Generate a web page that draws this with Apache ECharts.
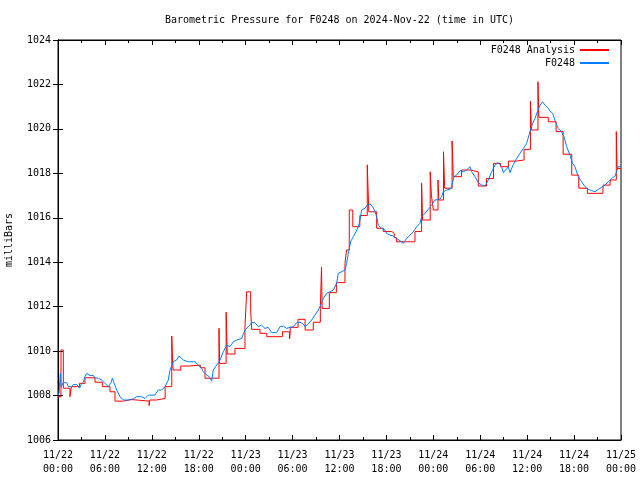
<!DOCTYPE html>
<html>
<head>
<meta charset="utf-8">
<script src="https://cdn.jsdelivr.net/npm/echarts@6/dist/echarts.min.js"></script>
<style>html,body{margin:0;padding:0;background:#fff;}#c{width:640px;height:480px;}</style>
</head>
<body>
<div id="c"></div>
<script>
// hours since 2024-11-22 00:00 UTC
const xTickLabels = ["11/22\n00:00","11/22\n06:00","11/22\n12:00","11/22\n18:00","11/23\n00:00","11/23\n06:00","11/23\n12:00","11/23\n18:00","11/24\n00:00","11/24\n06:00","11/24\n12:00","11/24\n18:00","11/25\n00:00"];
const yTicks = [1006,1008,1010,1012,1014,1016,1018,1020,1022,1024];

const analysisHours = [0,0.38,0.68,1.53,1.72,2.75,3.45,4.73,5.67,6.65,7.29,8.36,9.4,11.65,11.75,12.6,13.7,14.55,14.62,14.72,15.7,16.8,18.2,18.8,20.59,20.66,21.5,21.65,22.63,23.91,24.13,24.64,24.77,25.83,26.7,28.7,29.62,29.72,30.7,31.6,32.65,33.55,33.7,33.78,34.7,35.6,36.7,36.9,37.25,37.7,38.6,39.55,39.75,40.75,41.6,42.7,43.0,43.3,45.65,46.5,46.62,47.6,47.75,48.0,48.6,48.7,49.3,49.45,50.4,50.55,51.6,52.7,53.75,54.8,55.7,56.6,57.6,58.6,59.6,60.42,60.55,61.38,61.5,62.7,63.7,64.6,65.7,66.6,67.7,69.7,70.6,71.4,71.5,72];
const analysisValues = [1007.95,1010.05,1008.33,1007.95,1008.4,1008.55,1008.8,1008.6,1008.4,1008.17,1007.75,1007.82,1007.75,1007.55,1007.8,1007.87,1008.4,1010.68,1009.93,1009.15,1009.33,1009.37,1009.25,1008.78,1011.03,1009.45,1011.75,1009.87,1010.12,1011.1,1012.67,1011.85,1010.98,1010.8,1010.65,1010.87,1010.55,1011.07,1011.43,1010.95,1011.3,1011.92,1013.77,1011.92,1012.63,1013.08,1013.95,1014.55,1016.35,1015.6,1016.1,1018.38,1016.27,1015.53,1015.38,1015.3,1015.1,1014.92,1015.38,1017.55,1015.9,1018.07,1017.03,1016.35,1017.7,1016.8,1018.97,1017.33,1019.45,1017.85,1018.15,1018.07,1017.43,1017.77,1018.45,1018.3,1018.55,1018.6,1019.08,1021.25,1019.95,1022.12,1020.52,1020.32,1019.88,1018.86,1017.92,1017.33,1017.1,1017.47,1017.7,1019.88,1018.22,1018.22];

const obsHours = [0.0,0.13,0.3,0.4,0.68,1.11,1.32,1.75,1.96,2.39,2.75,2.94,3.24,3.45,3.67,4.09,4.52,4.73,5.16,5.58,6.01,6.44,6.8,6.95,7.2,7.5,7.93,8.35,8.99,9.63,10.06,10.7,11.13,11.55,12.4,12.83,13.26,13.68,14.11,14.32,14.75,14.96,15.17,15.47,16.03,16.67,17.52,17.95,18.37,18.59,19.01,19.35,19.65,19.86,20.29,20.72,21.14,21.57,22.0,22.42,22.85,23.49,23.91,24.34,24.77,25.19,25.62,26.04,26.47,26.89,27.32,27.96,28.39,28.82,29.24,29.67,30.1,30.52,30.95,31.37,31.59,32.01,32.44,32.86,33.29,33.59,33.93,34.36,34.78,35.21,35.63,35.85,36.27,36.48,36.7,36.91,37.13,37.42,37.77,38.11,38.41,38.62,38.83,39.26,39.56,39.9,40.24,40.54,40.75,40.96,41.39,41.82,42.03,42.46,42.88,43.31,43.73,44.16,44.37,44.59,45.01,45.44,45.87,46.29,46.51,46.93,47.36,47.78,48.21,48.42,48.85,49.06,49.28,49.7,50.13,50.34,50.64,50.98,51.41,51.84,52.26,52.69,52.9,53.32,53.75,54.18,54.6,55.03,55.46,55.88,56.31,56.74,56.95,57.37,57.59,57.8,58.23,58.66,59.08,59.51,59.93,60.36,60.7,61.0,61.3,61.64,61.98,62.28,62.71,62.92,63.26,63.68,63.98,64.41,64.71,65.05,65.47,65.81,66.11,66.54,66.97,67.39,67.82,68.25,68.67,69.1,69.52,69.95,70.38,70.8,71.23,71.44,71.65,71.95];
const obsValues = [1008.0,1008.1,1009.0,1008.4,1008.58,1008.58,1008.4,1008.4,1008.5,1008.5,1008.33,1008.5,1008.6,1008.85,1009.0,1008.9,1008.9,1008.8,1008.78,1008.7,1008.55,1008.4,1008.6,1008.78,1008.7,1008.25,1007.95,1007.8,1007.8,1007.85,1007.95,1007.95,1007.87,1008.02,1008.02,1008.25,1008.25,1008.4,1008.7,1009.15,1009.52,1009.6,1009.6,1009.78,1009.6,1009.52,1009.52,1009.37,1009.22,1009.07,1008.92,1008.85,1008.65,1009.15,1009.37,1009.6,1009.97,1010.27,1010.2,1010.42,1010.5,1010.57,1010.95,1011.1,1011.28,1011.28,1011.1,1011.17,1011.02,1011.07,1010.83,1010.83,1011.1,1011.13,1011.02,1011.07,1011.1,1011.28,1011.3,1011.22,1011.1,1011.22,1011.4,1011.62,1011.85,1012.07,1012.37,1012.6,1012.67,1012.75,1013.05,1013.5,1013.57,1013.5,1013.65,1013.95,1014.4,1014.92,1015.15,1015.37,1015.6,1015.9,1016.35,1016.43,1016.57,1016.62,1016.5,1016.27,1016.05,1015.67,1015.52,1015.45,1015.3,1015.22,1015.18,1015.07,1014.97,1014.85,1014.88,1015.07,1015.22,1015.37,1015.6,1015.75,1016.05,1016.2,1016.38,1016.57,1016.8,1016.8,1016.83,1016.95,1017.17,1017.25,1017.28,1017.4,1017.85,1017.92,1018.12,1018.07,1018.15,1018.3,1018.07,1017.85,1017.58,1017.47,1017.43,1017.7,1018.07,1018.37,1018.48,1018.3,1018.03,1018.2,1018.3,1018.03,1018.4,1018.67,1018.9,1019.12,1019.35,1019.87,1020.25,1020.47,1020.77,1021.07,1021.22,1021.07,1020.92,1020.8,1020.7,1020.25,1020.02,1019.87,1019.65,1019.2,1018.82,1018.45,1018.3,1017.85,1017.62,1017.4,1017.28,1017.22,1017.17,1017.28,1017.37,1017.47,1017.62,1017.77,1017.88,1018.07,1018.3,1018.3];

const FONT = 'DejaVu Sans Mono';
const chart = echarts.init(document.getElementById('c'), null, {renderer: 'canvas'});

const pair = (xs, ys) => xs.map((x, i) => [x, ys[i]]);

const xCommon = {
  type: 'value', min: 0, max: 72, interval: 6,
  axisLine: {show: true, lineStyle: {color: '#000', width: 1}},
  axisTick: {show: true, inside: true, length: 5, lineStyle: {color: '#000'}},
  minorTick: {show: true, splitNumber: 2, length: 3, lineStyle: {color: '#000'}},
  splitLine: {show: false}, minorSplitLine: {show: false}
};
const yCommon = {
  type: 'value', min: 1006, max: 1024, interval: 2,
  axisLine: {show: true, lineStyle: {color: '#000', width: 1}},
  axisTick: {show: true, inside: true, length: 5, lineStyle: {color: '#000'}},
  splitLine: {show: false}
};

chart.setOption({
  animation: false,
  backgroundColor: '#fff',
  graphic: [{
    type: 'text', x: 339.5, y: 20,
    style: {text: 'Barometric Pressure for F0248 on 2024-Nov-22 (time in UTC)', font: '10px "' + FONT + '"', fill: '#000', textAlign: 'center', textVerticalAlign: 'middle'}
  }],
  grid: {left: 58, right: 19, top: 40, bottom: 40, containLabel: false, outerBoundsMode: 'none',
    show: true, borderColor: '#000', borderWidth: 1, backgroundColor: 'transparent'},
  legend: {
    orient: 'vertical', right: 31, top: 44, align: 'right', padding: 0,
    itemWidth: 29, itemHeight: 2, itemGap: 1, icon: 'rect',
    textStyle: {fontFamily: FONT, fontSize: 10, color: '#000', lineHeight: 12},
    data: ['F0248 Analysis', 'F0248']
  },
  xAxis: [
    Object.assign({}, xCommon, {
      position: 'bottom',
      axisLabel: {show: true, fontFamily: FONT, fontSize: 10, color: '#000', lineHeight: 14, margin: 8,
        formatter: v => xTickLabels[Math.round(v / 6)] || ''}
    }),
    Object.assign({}, xCommon, {position: 'top', axisLabel: {show: false}})
  ],
  yAxis: [
    Object.assign({}, yCommon, {
      position: 'left',
      name: 'milliBars', nameLocation: 'middle', nameGap: 44, nameRotate: 90,
      nameTextStyle: {fontFamily: FONT, fontSize: 10, color: '#000'},
      axisLabel: {show: true, fontFamily: FONT, fontSize: 10, color: '#000', margin: 7,
        formatter: v => (yTicks.indexOf(v) >= 0 ? String(v) : '')}
    }),
    Object.assign({}, yCommon, {position: 'right', axisLabel: {show: false}})
  ],
  series: [
    {name: 'F0248 Analysis', type: 'line', step: 'end', data: pair(analysisHours, analysisValues),
      showSymbol: false, symbol: 'none', lineStyle: {color: '#ff0000', width: 1}, itemStyle: {color: '#ff0000'}, z: 2},
    {name: 'F0248', type: 'line', data: pair(obsHours, obsValues),
      showSymbol: false, symbol: 'none', lineStyle: {color: '#0080ff', width: 1}, itemStyle: {color: '#0080ff'}, z: 3}
  ]
});
</script>
</body>
</html>
